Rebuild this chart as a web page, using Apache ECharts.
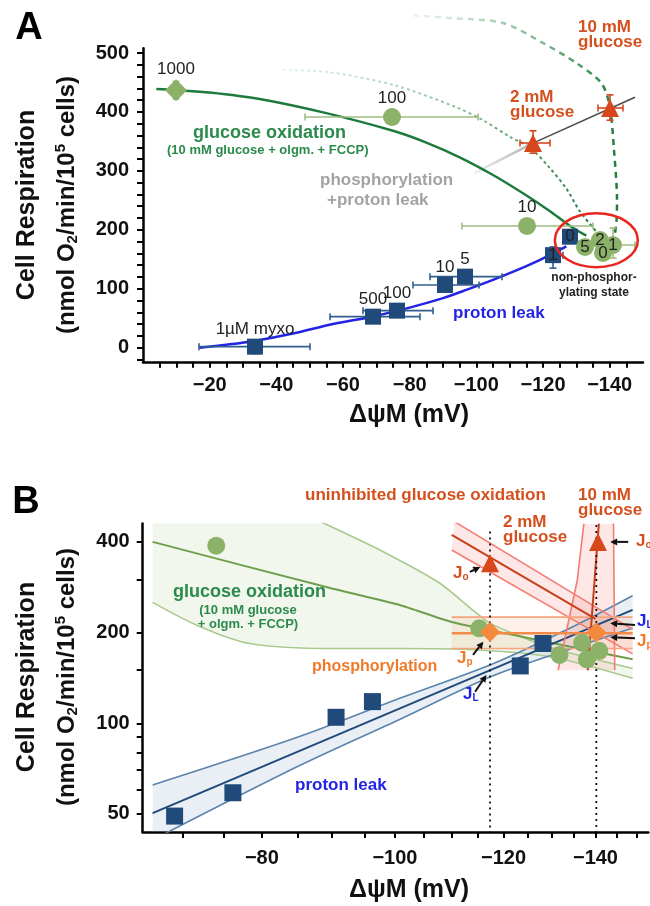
<!DOCTYPE html>
<html>
<head>
<meta charset="utf-8">
<title>Cell respiration vs mitochondrial membrane potential</title>
<script src="https://cdn.jsdelivr.net/npm/echarts@6/dist/echarts.min.js"></script>
<style>
  html, body { margin: 0; padding: 0; background: #fff; }
  #chart { width: 650px; height: 906px; }
</style>
</head>
<body>
<div id="chart"></div>
<script>
// ---------- panel A: ΔψM (mV) vs respiration (nmol O2/min/10^5 cells) ----------
const leakA = [[-33.6, 1.7], [-69, 52.6], [-76.2, 62.8], [-90.6, 106.4], [-96.6, 120.5], [-123, 157], [-128.1, 188.3]];
const leakLabelsA = ['1µM myxo', '500', '100', '10', '5', '1', '0'];
// [x low, x high, y low, y high]
const leakErrA = [[-16.8, -50.1, -10, 12], [-56.1, -83.1, null, null], [-66, -87, null, null], [-81, -100.8, 96, 115],
                  [-86.1, -107.7, null, null], [-121, -126, 135, 171], [null, null, null, null]];

const glucA = [[-9.9, 437], [-74.7, 391.4], [-115.2, 206.5], [-132.6, 170.9], [-137.1, 182.7], [-138, 160.7], [-141, 174.2]];
const glucLabelsA = ['1000', '100', '10', '5', '2', '0', '1'];
const glucErrA = [[null, null, 422, 452], [-48.6, -100.5, 379, 404], [-95.7, -135, null, null], [null, null, null, null],
                  [null, null, null, null], [null, null, null, null], [-134, -147.6, 152, 203]];

const glucoseA = [[-117, 347.3], [-140.1, 406.7]];           // 2 mM, 10 mM glucose
const glucoseErrA = [[-113.1, -122.1, 330, 368], [-136.5, -144, 386, 429]];

const oxCurveA = [[-4, 439], [-10, 437], [-20, 433], [-35, 422], [-55, 398], [-75, 368], [-85, 348], [-95, 323],
                  [-105, 293], [-114, 262], [-122, 232], [-128, 207], [-133, 190]];
const leakCurveA = [[-17, 0], [-25, 5], [-33, 11], [-45, 24], [-57, 40], [-69, 53], [-80, 68], [-90, 84], [-97, 98],
                    [-105, 115], [-112, 131], [-118, 146], [-123, 160], [-127, 172]];
const kin2mMA = [[-42, 471], [-55, 468], [-75, 446], [-94, 408], [-102, 386], [-110, 358], [-116, 340], [-122, 305],
                 [-127, 270], [-131, 232], [-136, 197]];
const kin10mMA = [[-81, 564], [-93, 559], [-108, 551], [-120, 517], [-130, 483], [-137.5, 449], [-140, 410],
                  [-141.3, 335], [-142.2, 250], [-142, 211], [-141.3, 185]];
const phosLeakLowA = [[-99.4, 296], [-117, 347]];
const phosLeakHighA = [[-117, 347], [-147.6, 425]];
const nonPhosCenterA = [-136, 182.4];
const nonPhosRadiusA = [12.45, 45.8];

const xTicksA = [-5, -10, -15, -20, -25, -30, -35, -40, -45, -50, -55, -60, -65, -70, -75, -80, -85, -90, -95, -100,
                 -105, -110, -115, -120, -125, -130, -135, -140, -145];
const xLabelsA = [-20, -40, -60, -80, -100, -120, -140];
const yTicksA = [-20, 0, 20, 40, 60, 80, 100, 120, 140, 160, 180, 200, 220, 240, 260, 280, 300, 320, 340, 360, 380,
                 400, 420, 440, 460, 480, 500];
const yLabelsA = [0, 100, 200, 300, 400, 500];

// ---------- panel B: log-log ----------
const leakB = [[-69.1, 49.2], [-76.2, 58.8], [-90.6, 104.7], [-96.3, 118], [-123.4, 155], [-128.2, 184]];
const glucB = [[-74.1, 388.7], [-115.2, 206.6], [-131.8, 168.6], [-136.9, 185], [-138, 163], [-140.9, 174]];
const joB = [[-117.3, 340], [-140.6, 400]];
const jpB = [[-117.3, 201], [-140.2, 200]];

const leakFitB = [[-66.6, 50.3], [-149, 238]];
const leakUpperB = [[-66.6, 62.4], [-85, 90], [-100.8, 121], [-118, 158], [-135, 210], [-149, 265]];
const leakLowerB = [[-66.6, 41], [-85, 72], [-100.8, 103], [-118, 144], [-135, 178], [-149, 207]];

const oxFitB = [[-66.6, 400], [-89.7, 281], [-100.8, 247], [-110, 217], [-125, 192], [-149, 163]];
const oxUpperB = [[-66.6, 860], [-88, 470], [-97.5, 376], [-107.9, 291], [-117.3, 215], [-130, 178], [-149, 152]];
const oxLowerB = [[-66.6, 252], [-72, 210], [-78.4, 184], [-90, 177], [-100.8, 177], [-115, 175], [-130, 166], [-149, 141]];

const ox2mMFitB = [[-110, 422], [-140, 222]];
const ox2mMUpperB = [[-110.5, 467], [-149, 205]];
const ox2mMLowerB = [[-110, 376], [-149, 170]];
const ox10mMFitB = [[-138.2, 150], [-140.8, 460]];
const ox10mMLeftB = [[-131.5, 150], [-135.8, 299], [-137.3, 460]];
const ox10mMRightB = [[-144.6, 150], [-144.3, 460]];

const phosFitB = [[-110, 199], [-149, 199]];
const phosUpperB = [[-110, 225], [-149, 225]];
const phosLowerB = [[-110, 177], [-149, 177]];

const dropLinesB = [[[-117.3, 433], [-117.3, 43.6]], [[-140.2, 455], [-140.2, 43.6]]];
// arrows: tail x, tail y, head x, head y
const arrowsB = [[-113.4, 318, -115.4, 330], [-147.9, 400, -143.5, 400], [-149.6, 212, -143.5, 214.6],
                 [-149.6, 191.5, -143.5, 193], [-114, 168.6, -116, 186.6], [-114.4, 127.3, -116.6, 144.7]];

const xTicksB = [-70, -75, -80, -85, -90, -95, -100, -105, -110, -115, -120, -125, -130, -135, -140, -145, -150];
const xLabelsB = [-80, -100, -120, -140];
const yTicksB = [50, 60, 70, 80, 90, 100, 150, 200, 300, 400];
const yLabelsB = [50, 100, 200, 400];

// ---------- helpers ----------
const FONT = '"Liberation Sans", Arial, Helvetica, sans-serif';
const MINUS = '\u2212';
const toA = p => p;
const toB = p => [Math.abs(p[0]), p[1]];

const chart = echarts.init(document.getElementById('chart'));

function axisBase() {
    return {
        axisLine: { show: true, onZero: false, lineStyle: { color: '#000', width: 2.5 } },
        axisTick: { show: true, length: 6, lineStyle: { color: '#000', width: 2 } },
        splitLine: { show: false },
        axisLabel: { fontFamily: FONT, fontSize: 20, fontWeight: 'bold', color: '#111' }
    };
}

function line(grid, pts, lineStyle, extra) {
    return Object.assign({
        type: 'line', xAxisIndex: grid, yAxisIndex: grid,
        data: pts.map(grid ? toB : toA), symbol: 'none', silent: true,
        lineStyle: Object.assign({ width: 2 }, lineStyle), z: 3
    }, extra || {});
}

function band(grid, upper, lower, fill) {
    const conv = grid ? toB : toA;
    return {
        type: 'custom', xAxisIndex: grid, yAxisIndex: grid, silent: true, clip: true, z: 1,
        data: [conv(lower[0])],
        renderItem: (params, api) => ({
            type: 'polygon',
            shape: { points: upper.concat(lower.slice().reverse()).map(p => api.coord(conv(p))) },
            style: { fill: fill }
        })
    };
}

function errorBars(grid, pts, errs, color) {
    const conv = grid ? toB : toA;
    return {
        type: 'custom', xAxisIndex: grid, yAxisIndex: grid, silent: true, clip: false, z: 4,
        data: pts.map(conv),
        renderItem(params, api) {
            const p = pts[params.dataIndex], e = errs[params.dataIndex];
            const kids = [];
            const cap = 3.5;
            const st = { stroke: color, lineWidth: 1.6 };
            if (e[0] != null) {
                const a = api.coord(conv([e[0], p[1]])), b = api.coord(conv([e[1], p[1]]));
                kids.push({ type: 'line', shape: { x1: a[0], y1: a[1], x2: b[0], y2: b[1] }, style: st });
                kids.push({ type: 'line', shape: { x1: a[0], y1: a[1] - cap, x2: a[0], y2: a[1] + cap }, style: st });
                kids.push({ type: 'line', shape: { x1: b[0], y1: b[1] - cap, x2: b[0], y2: b[1] + cap }, style: st });
            }
            if (e[2] != null) {
                const a = api.coord(conv([p[0], e[2]])), b = api.coord(conv([p[0], e[3]]));
                kids.push({ type: 'line', shape: { x1: a[0], y1: a[1], x2: b[0], y2: b[1] }, style: st });
                kids.push({ type: 'line', shape: { x1: a[0] - cap, y1: a[1], x2: a[0] + cap, y2: a[1] }, style: st });
                kids.push({ type: 'line', shape: { x1: b[0] - cap, y1: b[1], x2: b[0] + cap, y2: b[1] }, style: st });
            }
            return { type: 'group', children: kids };
        }
    };
}

function markers(grid, pts, symbol, size, color, labels, placement, z) {
    const conv = grid ? toB : toA;
    return {
        type: 'scatter', xAxisIndex: grid, yAxisIndex: grid, symbol: symbol, symbolSize: size,
        itemStyle: { color: color, opacity: 1 }, silent: true, z: z || 6,
        label: { fontFamily: FONT, fontSize: 17, color: '#222' },
        data: pts.map((p, i) => labels ? {
            value: conv(p),
            label: { show: true, formatter: labels[i], position: placement[i], distance: 1 }
        } : conv(p))
    };
}

function fade(from, to) {
    return new echarts.graphic.LinearGradient(0, 0, 1, 0, [{ offset: 0, color: from }, { offset: 1, color: to }]);
}

function txt(x, y, text, size, color, align, extra) {
    return Object.assign({
        type: 'text', x: x, y: y, silent: true, z: 100,
        style: {
            text: text, fill: color, fontFamily: FONT, fontSize: size, fontWeight: 'bold',
            align: align || 'left', verticalAlign: 'middle', textAlign: align || 'left', textVerticalAlign: 'middle'
        }
    }, extra || {});
}

function jLabel(x, y, sub, color) {
    const t = txt(x, y, '{j|J}{s|' + sub + '}', 17, color, 'left');
    t.style.rich = {
        j: { fontFamily: FONT, fontSize: 17, fontWeight: 'bold', fill: color, color: color, lineHeight: 20 },
        s: { fontFamily: FONT, fontSize: 10, fontWeight: 'bold', fill: color, color: color, padding: [9, 0, 0, 0] }
    };
    return t;
}

function yTitle(x1, x2, cy) {
    const rot = { rotation: Math.PI / 2 };
    const second = txt(x2, cy, '(nmol O{sub|2}/min/10{sup|5} cells)', 24, '#111', 'center', rot);
    second.style.rich = {
        sub: { fontFamily: FONT, fontSize: 15, fontWeight: 'bold', fill: '#111', color: '#111', padding: [12, 0, 0, 0] },
        sup: { fontFamily: FONT, fontSize: 15, fontWeight: 'bold', fill: '#111', color: '#111', padding: [0, 0, 12, 0] }
    };
    return [txt(x1, cy, 'Cell Respiration', 25, '#111', 'center', rot), second];
}

// ---------- axes ----------
const xA = axisBase();
Object.assign(xA, { type: 'value', gridIndex: 0, min: -150, max: 0, inverse: true });
xA.axisTick.customValues = xTicksA;
Object.assign(xA.axisLabel, { customValues: xLabelsA, margin: 14, formatter: v => MINUS + Math.abs(v) });

const yA = axisBase();
Object.assign(yA, { type: 'value', gridIndex: 0, min: -24, max: 508 });
yA.axisTick.customValues = yTicksA;
Object.assign(yA.axisLabel, { customValues: yLabelsA, margin: 14 });

const xB = axisBase();
Object.assign(xB, { type: 'log', gridIndex: 1, min: 65.5, max: 153 });
xB.axisTick.customValues = xTicksB.map(Math.abs);
Object.assign(xB.axisLabel, { customValues: xLabelsB.map(Math.abs), margin: 17, formatter: v => MINUS + Math.round(v) });

const yB = axisBase();
Object.assign(yB, { type: 'log', gridIndex: 1, min: 43.6, max: 460 });
yB.axisTick.customValues = yTicksB;
Object.assign(yB.axisLabel, { customValues: yLabelsB, margin: 13, formatter: v => String(Math.round(v)) });

// ---------- series ----------
const GREEN_DARK = '#1e7a3c', GREEN_TXT = '#2b8a4b', GREEN_PT = '#8cb26a';
const NAVY = '#1f4a7a', BLUE = '#2323e6', RED = '#d4501e', ORANGE = '#f07a2a';

const seriesA = [
    line(0, kin10mMA, { color: fade('rgba(120,190,140,0.15)', GREEN_DARK), width: 2.5, type: [6, 5] }, { smooth: 0.3, clip: false, z: 2 }),
    line(0, kin2mMA, { color: fade('rgba(150,210,170,0.25)', GREEN_DARK), width: 2, type: [3, 3] }, { smooth: 0.3, clip: false, z: 2 }),
    line(0, phosLeakLowA, { color: fade('#f0f0f0', '#b0b0b0'), width: 2.5 }, { z: 2 }),
    line(0, phosLeakHighA, { color: '#4a4a4a', width: 1.5 }, { z: 2 }),
    line(0, oxCurveA, { color: GREEN_DARK, width: 2.5 }, { smooth: 0.3 }),
    line(0, leakCurveA, { color: BLUE, width: 2.5 }, { smooth: 0.3 }),
    errorBars(0, leakA, leakErrA, '#2f5f8f'),
    errorBars(0, glucA, glucErrA, '#9dbd80'),
    errorBars(0, glucoseA, glucoseErrA, '#d8461c'),
    markers(0, leakA, 'rect', 16, NAVY, leakLabelsA, ['top', 'top', 'top', 'top', 'top', 'inside', 'inside'], 5),
    markers(0, glucA.slice(0, 1), 'diamond', 22, GREEN_PT, glucLabelsA.slice(0, 1), ['top']),
    markers(0, glucA.slice(1), 'circle', 18, GREEN_PT, glucLabelsA.slice(1), ['top', 'top', 'inside', 'inside', 'inside', 'inside']),
    markers(0, glucoseA, 'triangle', 18, '#d8461c'),
    {
        type: 'custom', xAxisIndex: 0, yAxisIndex: 0, silent: true, clip: false, z: 8,
        data: [nonPhosCenterA],
        renderItem(params, api) {
            const c = api.coord([api.value(0), api.value(1)]);
            const s = api.size(nonPhosRadiusA);
            return {
                type: 'ellipse', shape: { cx: c[0], cy: c[1], rx: Math.abs(s[0]), ry: Math.abs(s[1]) },
                style: { fill: 'none', stroke: '#e8261e', lineWidth: 2.5 }
            };
        }
    }
];

const seriesB = [
    band(1, oxUpperB, oxLowerB, 'rgba(170,205,140,0.17)'),
    band(1, leakUpperB, leakLowerB, 'rgba(120,155,195,0.16)'),
    band(1, ox2mMUpperB, ox2mMLowerB, 'rgba(245,120,110,0.17)'),
    band(1, ox10mMLeftB, ox10mMRightB, 'rgba(245,120,110,0.17)'),
    band(1, phosUpperB, phosLowerB, 'rgba(250,160,110,0.15)'),
    line(1, oxUpperB, { color: '#a9c98f', width: 1.6 }, { smooth: 0.2 }),
    line(1, oxLowerB, { color: '#a9c98f', width: 1.6 }, { smooth: 0.3 }),
    line(1, oxFitB, { color: '#6e9e4c', width: 2 }, { smooth: 0.2 }),
    line(1, leakUpperB, { color: '#5b84ad', width: 1.6 }, { smooth: 0.3 }),
    line(1, leakLowerB, { color: '#5b84ad', width: 1.6 }, { smooth: 0.3 }),
    line(1, leakFitB, { color: NAVY, width: 2 }),
    line(1, ox2mMUpperB, { color: '#f47c72', width: 1.6 }),
    line(1, ox2mMLowerB, { color: '#f47c72', width: 1.6 }),
    line(1, ox10mMLeftB, { color: '#f47c72', width: 1.6 }),
    line(1, ox10mMRightB, { color: '#f47c72', width: 1.6 }),
    line(1, phosUpperB, { color: '#f7a47c', width: 1.6 }),
    line(1, phosLowerB, { color: '#f7a47c', width: 1.6 }),
    line(1, ox2mMFitB, { color: '#c7401a', width: 2 }, { z: 4 }),
    line(1, ox10mMFitB, { color: '#c7401a', width: 2 }, { z: 4 }),
    line(1, phosFitB, { color: '#f28a4a', width: 2.5 }, { z: 4 }),
    line(1, dropLinesB[0], { color: '#111', width: 1.8, type: [2, 4] }, { z: 5 }),
    line(1, dropLinesB[1], { color: '#111', width: 1.8, type: [2, 4] }, { z: 5 }),
    markers(1, leakB, 'rect', 17, NAVY),
    markers(1, glucB, 'circle', 18, GREEN_PT),
    markers(1, joB, 'triangle', 18, '#d8461c', null, null, 7),
    markers(1, jpB, 'diamond', 20, '#f58a3c', null, null, 7),
    {
        type: 'custom', xAxisIndex: 1, yAxisIndex: 1, silent: true, clip: false, z: 9,
        data: arrowsB.map(r => [Math.abs(r[0]), r[1], Math.abs(r[2]), r[3]]),
        renderItem(params, api) {
            const a = api.coord([api.value(0), api.value(1)]);
            const b = api.coord([api.value(2), api.value(3)]);
            const ang = Math.atan2(b[1] - a[1], b[0] - a[0]);
            const h = 7, w = 3.5, c = Math.cos(ang), s = Math.sin(ang);
            return {
                type: 'group', children: [
                    { type: 'line', shape: { x1: a[0], y1: a[1], x2: b[0] - h * c, y2: b[1] - h * s }, style: { stroke: '#111', lineWidth: 2 } },
                    { type: 'polygon', shape: { points: [b, [b[0] - h * c + w * s, b[1] - h * s - w * c], [b[0] - h * c - w * s, b[1] - h * s + w * c]] }, style: { fill: '#111' } }
                ]
            };
        }
    }
];

// ---------- texts ----------
const texts = [
    txt(29, 29, 'A', 38, '#000', 'center'),
    ...yTitle(27, 67, 205),
    txt(409, 415, 'ΔψM (mV)', 25, '#111', 'center'),
    txt(193, 133, 'glucose oxidation', 18, GREEN_TXT),
    txt(167, 150, '(10 mM glucose + olgm. + FCCP)', 13, GREEN_TXT),
    txt(320, 180, 'phosphorylation', 17, '#a3a3a3'),
    txt(327, 200, '+proton leak', 17, '#a3a3a3'),
    txt(510, 97, '2 mM', 17, RED),
    txt(510, 112, 'glucose', 17, RED),
    txt(578, 27, '10 mM', 17, RED),
    txt(578, 42, 'glucose', 17, RED),
    txt(453, 313, 'proton leak', 17, BLUE),
    txt(594, 278, 'non-phosphor-', 12, '#222', 'center'),
    txt(594, 293, 'ylating state', 12, '#222', 'center'),

    txt(26, 503, 'B', 38, '#000', 'center'),
    ...yTitle(27, 67, 677),
    txt(409, 890, 'ΔψM (mV)', 25, '#111', 'center'),
    txt(305, 495, 'uninhibited glucose oxidation', 17, RED),
    txt(503, 522, '2 mM', 17, RED),
    txt(503, 537, 'glucose', 17, RED),
    txt(578, 495, '10 mM', 17, RED),
    txt(578, 510, 'glucose', 17, RED),
    txt(173, 592, 'glucose oxidation', 18, GREEN_TXT),
    txt(248, 610, '(10 mM glucose', 13, GREEN_TXT, 'center'),
    txt(248, 624, '+ olgm. + FCCP)', 13, GREEN_TXT, 'center'),
    txt(312, 667, 'phosphorylation', 16, ORANGE),
    txt(295, 785, 'proton leak', 17, BLUE),
    jLabel(453, 573, 'o', RED),
    jLabel(636, 541, 'o', RED),
    jLabel(637, 621, 'L', BLUE),
    jLabel(637, 641, 'p', ORANGE),
    jLabel(457, 658, 'p', ORANGE),
    jLabel(463, 694, 'L', BLUE)
];

chart.setOption({
    animation: false,
    backgroundColor: '#fff',
    grid: [
        { left: 143, top: 48.3, width: 500, height: 313.5 },
        { left: 142.7, top: 523.6, width: 505.7, height: 308.3 }
    ],
    xAxis: [xA, xB],
    yAxis: [yA, yB],
    series: seriesA.concat(seriesB),
    graphic: { elements: texts }
});
</script>
</body>
</html>
